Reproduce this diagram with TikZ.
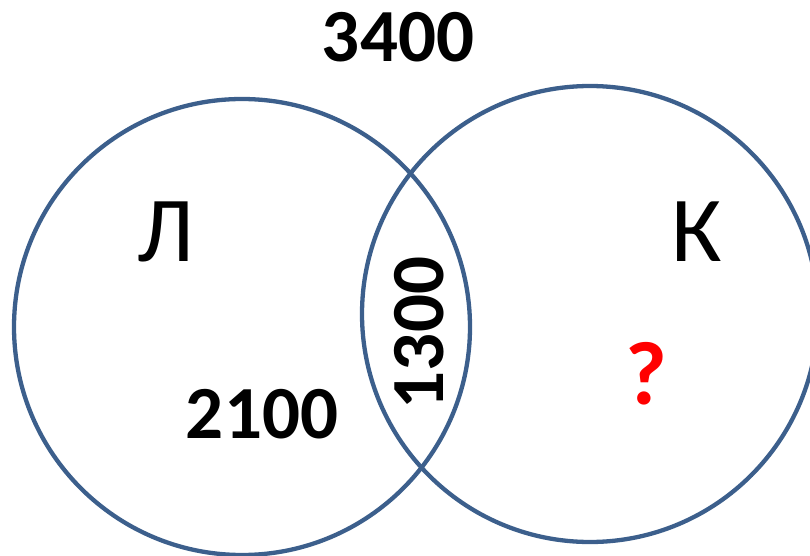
\documentclass[tikz,border=0pt]{standalone}
\usepackage{fontspec}
\setmainfont{Carlito}
\definecolor{setblue}{RGB}{60,95,140}
\definecolor{qred}{RGB}{255,0,0}
\begin{document}
\begin{tikzpicture}[x=1pt,y=-1pt,
  set/.style={circle,draw=setblue,line width=4.3pt,minimum size=456pt,inner sep=0pt,outer sep=0pt},
  num/.style={inner sep=0pt,font=\fontsize{75}{75}\selectfont\bfseries},
  letter/.style={inner sep=0pt,font=\fontsize{93}{93}\selectfont}]
\useasboundingbox (0,0) rectangle (810,556);
% the two sets
\node[set] (L) at (242,327) {};
\node[set] (K) at (590,314) {};
% set names
\node[letter] (lname) at (166,232) {Л};
\node[letter] (kname) at (697,232) {К};
% counts
\node[num] (total) at (398,37) {3400};
\node[num] (lonly) at (262,414) {2100};
\node[num,rotate=90] (both) at (419,333) {1300};
\node[inner sep=0pt,font=\fontsize{90}{90}\selectfont\bfseries,text=qred] (konly) at (646,374) {?};
\end{tikzpicture}
\end{document}
